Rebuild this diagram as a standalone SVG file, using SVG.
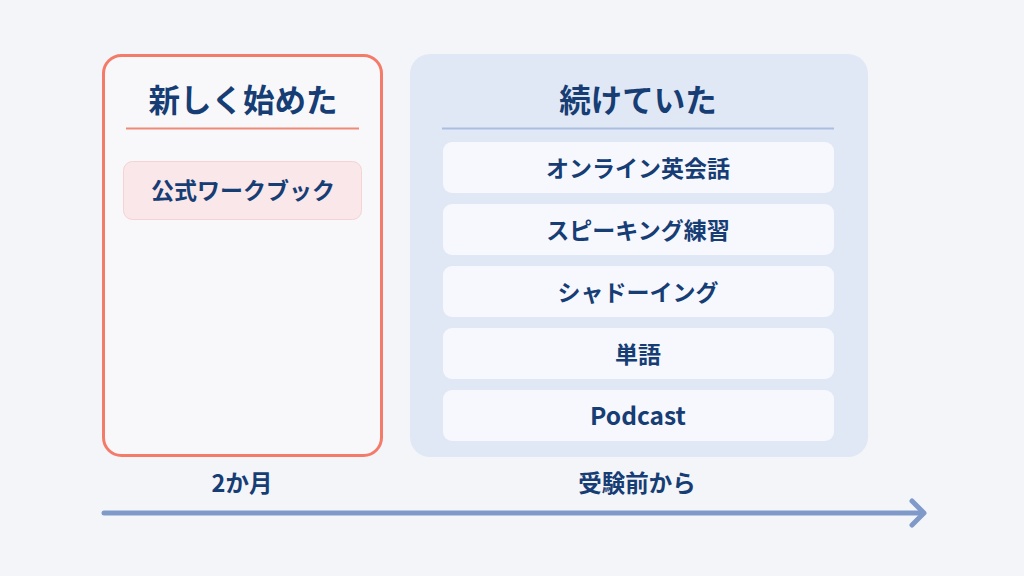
<svg xmlns="http://www.w3.org/2000/svg" width="1024" height="576" viewBox="0 0 1024 576">
<style>
text{font-family:"Noto Sans CJK JP","Noto Sans",sans-serif;font-weight:700;fill:#163d74;text-anchor:middle;dominant-baseline:central}
.title{font-size:31.5px}
.item{font-size:23px}
.lbl{font-size:23.5px}
.card{fill:#f6f8fd;stroke:none}
</style>
<rect width="1024" height="576" fill="#f4f5f9"/>
<g id="new">
<rect x="103.5" y="55.5" width="278" height="400" rx="18" fill="#f8f8fb" stroke="#f47b69" stroke-width="3"/>
<text class="title" x="243" y="98">新しく始めた</text>
<line x1="126" y1="128.5" x2="359" y2="128.5" stroke="#f08a78" stroke-width="2"/>
</g>
<g id="workbook">
<rect x="123.5" y="161.5" width="238" height="58" rx="9" fill="#f9e7e9" stroke="#f5d2d4" stroke-width="1"/>
<text class="item" x="243" y="188.5">公式ワークブック</text>
</g>
<g id="continued">
<rect x="410" y="54" width="458" height="403" rx="20" fill="#e1e8f5"/>
<text class="title" x="638" y="98">続けていた</text>
<line x1="442" y1="128.5" x2="834" y2="128.5" stroke="#a9bee1" stroke-width="2"/>
</g>
<g id="item1"><rect class="card" x="443" y="142" width="391" height="51" rx="9"/><text class="item" x="638" y="166.5">オンライン英会話</text></g>
<g id="item2"><rect class="card" x="443" y="204" width="391" height="51" rx="9"/><text class="item" x="638" y="228.5">スピーキング練習</text></g>
<g id="item3"><rect class="card" x="443" y="266" width="391" height="51" rx="9"/><text class="item" x="638" y="290.5">シャドーイング</text></g>
<g id="item4"><rect class="card" x="443" y="328" width="391" height="51" rx="9"/><text class="item" x="638" y="352.5">単語</text></g>
<g id="item5"><rect class="card" x="443" y="390" width="391" height="51" rx="9"/><text class="item" x="638" y="414.5" style="font-size:24.5px">Podcast</text></g>
<g id="label-2m"><text class="lbl" x="242" y="481.5">2か月</text></g>
<g id="label-before"><text class="lbl" x="637" y="481.5">受験前から</text></g>
<g id="connectors">
<line x1="104" y1="513" x2="922" y2="513" stroke="#7f9ac8" stroke-width="5" stroke-linecap="round"/>
<polyline points="912,501 924,513 912,525" fill="none" stroke="#7f9ac8" stroke-width="5" stroke-linecap="round" stroke-linejoin="round"/>
</g>
</svg>
